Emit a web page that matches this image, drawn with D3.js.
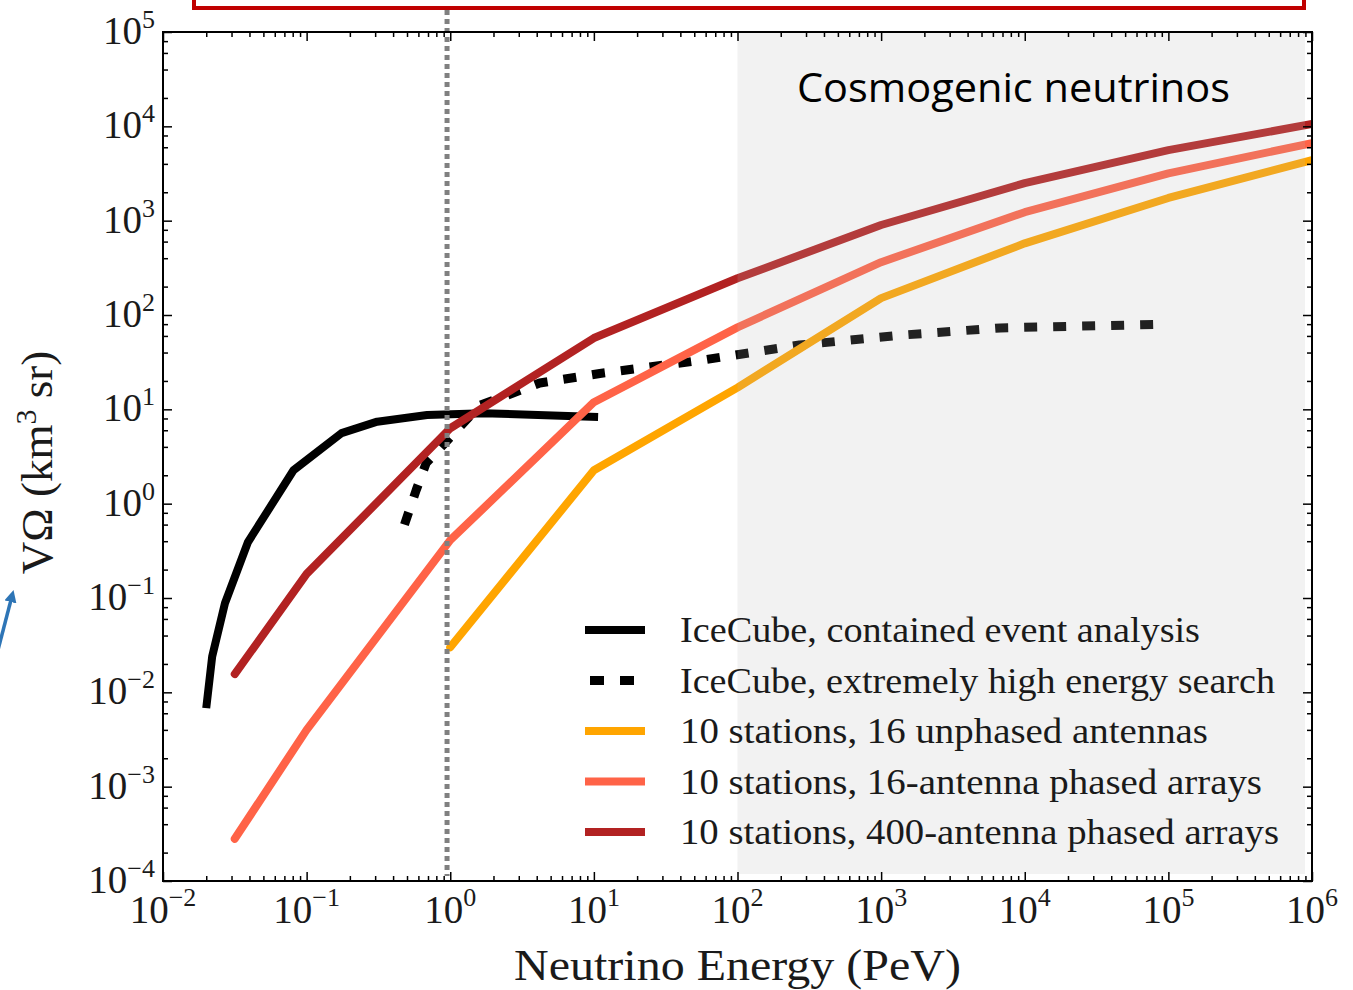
<!DOCTYPE html>
<html>
<head>
<meta charset="utf-8">
<script src="https://cdn.jsdelivr.net/npm/d3@7"></script>
<style>
  html, body { margin: 0; padding: 0; background: #fff; }
  svg { display: block; }
</style>
</head>
<body>
<svg id="chart" width="1353" height="990"></svg>
<script>
// ---------------- DATA ----------------
const xDecades = [1e-2, 1e-1, 1e0, 1e1, 1e2, 1e3, 1e4, 1e5, 1e6];
const xTickExponents = ["\u22122", "\u22121", "0", "1", "2", "3", "4", "5", "6"];
const yDecades = [1e-4, 1e-3, 1e-2, 1e-1, 1e0, 1e1, 1e2, 1e3, 1e4, 1e5];
const yTickExponents = ["\u22124", "\u22123", "\u22122", "\u22121", "0", "1", "2", "3", "4", "5"];

const seriesNames = [
  "IceCube, contained event analysis",
  "IceCube, extremely high energy search",
  "10 stations, 16 unphased antennas",
  "10 stations, 16-antenna phased arrays",
  "10 stations, 400-antenna phased arrays"
];

// IceCube contained event analysis (solid black)
const containedE = [0.020, 0.022, 0.027, 0.039, 0.081, 0.175, 0.31, 0.69, 1.7, 10.7];
const containedV = [0.0068, 0.024, 0.088, 0.39, 2.26, 5.6, 7.4, 8.7, 9.1, 8.3];

// IceCube extremely high energy search (dashed black)
const eheE = [0.48, 0.58, 0.68, 0.92, 1.6, 4.2, 11, 55, 270, 1350, 6750, 1e5];
const eheV = [0.6, 1.4, 2.7, 4.4, 11, 19, 24, 33, 48, 61, 73, 80];

// 10 stations, 16 unphased antennas (orange)
const unphasedE = [1, 10, 100, 1e3, 1e4, 1e5, 1e6];
const unphasedV = [0.030, 2.26, 17, 151, 575, 1740, 4380];

// 10 stations, 16-antenna phased arrays (tomato)
const phased16E = [0.0316, 0.1, 1, 10, 100, 1e3, 1e4, 1e5, 1e6];
const phased16V = [2.8e-4, 0.004, 0.41, 11.9, 74, 363, 1230, 3170, 6650];

// 10 stations, 400-antenna phased arrays (firebrick)
const phased400E = [0.0316, 0.1, 1, 10, 100, 1e3, 1e4, 1e5, 1e6];
const phased400V = [0.0156, 0.18, 6.3, 57, 245, 900, 2500, 5600, 10600];

const thresholdEnergy = 0.95;           // dotted vertical marker
const cosmogenicRange = [100, 1e6];     // shaded region
const regionLabel = "Cosmogenic neutrinos";

// ---------------- LAYOUT ----------------
const L = 163, R = 1312, T = 32, B = 881;
const svg = d3.select("#chart");
const x = d3.scaleLog().domain([1e-2, 1e6]).range([L, R]);
const y = d3.scaleLog().domain([1e-4, 1e5]).range([B, T]);
const serif = "'Liberation Serif', 'DejaVu Serif', serif";

const series = [
  { name: seriesNames[0], E: containedE, V: containedV, color: "#000000", dash: null, cap: "butt", w: 8 },
  { name: seriesNames[1], E: eheE, V: eheV, color: "#000000", dash: "13,16", cap: "butt", w: 9 },
  { name: seriesNames[2], E: unphasedE, V: unphasedV, color: "#FFA500", dash: null, cap: "round", w: 8 },
  { name: seriesNames[3], E: phased16E, V: phased16V, color: "#FF6347", dash: null, cap: "round", w: 8 },
  { name: seriesNames[4], E: phased400E, V: phased400V, color: "#B22222", dash: null, cap: "round", w: 8 }
];

const clipId = "plotclip";
svg.append("defs").append("clipPath").attr("id", clipId)
  .append("rect").attr("x", L).attr("y", T).attr("width", R - L).attr("height", B - T);

const line = d3.line().x(d => x(d[0])).y(d => y(d[1]));
const gLines = svg.append("g").attr("clip-path", `url(#${clipId})`);
series.forEach(s => {
  const pts = s.E.map((e, i) => [e, s.V[i]]);
  gLines.append("path")
    .attr("d", line(pts))
    .attr("fill", "none")
    .attr("stroke", s.color)
    .attr("stroke-width", s.w)
    .attr("stroke-linecap", s.cap)
    .attr("stroke-linejoin", "round")
    .attr("stroke-dasharray", s.dash);
});

// dotted vertical marker
svg.append("line")
  .attr("x1", x(thresholdEnergy)).attr("x2", x(thresholdEnergy))
  .attr("y1", 10).attr("y2", 876)
  .attr("stroke", "#808080").attr("stroke-width", 5)
  .attr("stroke-dasharray", "5,4");

// shaded cosmogenic region (semi-transparent overlay)
svg.append("rect")
  .attr("x", x(cosmogenicRange[0]))
  .attr("y", T)
  .attr("width", x(cosmogenicRange[1]) - x(cosmogenicRange[0]) - 7)
  .attr("height", 874 - T)
  .attr("fill", "rgb(185,185,185)")
  .attr("fill-opacity", 0.18);

// ---------------- AXES ----------------
const minorX = [];
xDecades.slice(0, -1).forEach(d => { for (let k = 2; k <= 9; k++) minorX.push(d * k); });
const minorY = [];
yDecades.slice(0, -1).forEach(d => { [2, 4, 6, 8].forEach(k => minorY.push(d * k)); });

function styleAxis(g) {
  g.select(".domain").remove();
  g.selectAll(".tick line").attr("stroke", "#000").attr("stroke-width", 1.5);
  g.selectAll(".tick text").remove();
}
const axes = [
  [d3.axisBottom(x), `translate(0,${B})`, xDecades, minorX],
  [d3.axisTop(x), `translate(0,${T})`, xDecades, minorX],
  [d3.axisLeft(y), `translate(${L},0)`, yDecades, minorY],
  [d3.axisRight(y), `translate(${R},0)`, yDecades, minorY]
];
axes.forEach(([ax, tr, major, minor]) => {
  svg.append("g").attr("transform", tr)
    .call(ax.tickValues(major).tickSize(-9).tickFormat(""))
    .call(styleAxis);
  svg.append("g").attr("transform", tr)
    .call(ax.tickValues(minor).tickSize(-5).tickFormat(""))
    .call(styleAxis);
});

svg.append("rect")
  .attr("x", L).attr("y", T).attr("width", R - L).attr("height", B - T)
  .attr("fill", "none").attr("stroke", "#000").attr("stroke-width", 2);

// tick labels
xDecades.forEach((d, i) => {
  const t = svg.append("text")
    .attr("x", x(d)).attr("y", B + 42)
    .attr("text-anchor", "middle")
    .attr("font-family", serif).attr("font-size", 39).attr("fill", "#1a1a1a");
  t.append("tspan").text("10");
  t.append("tspan").attr("font-size", 26).attr("dy", -17).text(xTickExponents[i]);
});
yDecades.forEach((d, i) => {
  const t = svg.append("text")
    .attr("x", 155).attr("y", y(d) + 12)
    .attr("text-anchor", "end")
    .attr("font-family", serif).attr("font-size", 39).attr("fill", "#1a1a1a");
  t.append("tspan").text("10");
  t.append("tspan").attr("font-size", 26).attr("dy", -16).text(yTickExponents[i]);
});

// axis titles
svg.append("text")
  .attr("x", (L + R) / 2).attr("y", 980)
  .attr("text-anchor", "middle")
  .attr("font-family", serif).attr("font-size", 44).attr("fill", "#1a1a1a")
  .attr("textLength", 447).attr("lengthAdjust", "spacingAndGlyphs")
  .text("Neutrino Energy (PeV)");

const yt = svg.append("text")
  .attr("transform", `translate(52,${(T + B) / 2 + 6}) rotate(-90)`)
  .attr("text-anchor", "middle")
  .attr("font-family", serif).attr("font-size", 45).attr("fill", "#1a1a1a");
yt.append("tspan").text("V\u03A9 (km");
yt.append("tspan").attr("font-size", 30).attr("dy", -16).text("3");
yt.append("tspan").attr("dy", 16).text(" sr)");

// ---------------- LEGEND ----------------
const legendWidths = [520, 595, 528, 582, 599];
series.forEach((s, i) => {
  const ly = 630 + i * 50.5;
  svg.append("line")
    .attr("x1", s.dash ? 590 : 585).attr("x2", s.dash ? 634 : 645).attr("y1", ly).attr("y2", ly)
    .attr("stroke", s.color).attr("stroke-width", s.w)
    .attr("stroke-dasharray", s.dash ? "14,16" : null);
  svg.append("text")
    .attr("x", 680).attr("y", ly + 12)
    .attr("font-family", serif).attr("font-size", 35).attr("fill", "#1a1a1a")
    .attr("textLength", legendWidths[i]).attr("lengthAdjust", "spacingAndGlyphs")
    .text(s.name);
});

// region label
svg.append("text")
  .attr("x", 797).attr("y", 102)
  .attr("font-family", "'Open Sans', 'Liberation Sans', sans-serif")
  .attr("font-size", 40).attr("fill", "#000")
  .attr("textLength", 433).attr("lengthAdjust", "spacingAndGlyphs")
  .text(regionLabel);

// slide annotations: red frame at top, blue arrow at left
svg.append("rect")
  .attr("x", 194).attr("y", -20).attr("width", 1110).attr("height", 28)
  .attr("fill", "none").attr("stroke", "#C00000").attr("stroke-width", 4);

svg.append("defs").append("marker")
  .attr("id", "arr").attr("viewBox", "0 0 10 10").attr("refX", 5).attr("refY", 5)
  .attr("markerWidth", 3.5).attr("markerHeight", 3.5).attr("orient", "auto")
  .append("path").attr("d", "M0,0 L10,5 L0,10 Z").attr("fill", "#2E75B6");
svg.append("line")
  .attr("x1", -2).attr("y1", 650).attr("x2", 12).attr("y2", 596)
  .attr("stroke", "#2E75B6").attr("stroke-width", 3.5)
  .attr("marker-end", "url(#arr)");
</script>
</body>
</html>
